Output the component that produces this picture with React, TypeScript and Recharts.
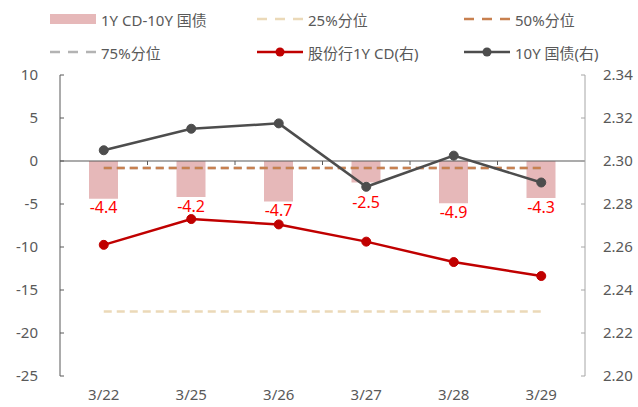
import React from "react";
import {
  ComposedChart,
  Bar,
  Line,
  XAxis,
  YAxis,
  ReferenceLine,
  LabelList,
} from "recharts";

const categories = ["3/22", "3/25", "3/26", "3/27", "3/28", "3/29"];
const spread = [-4.4, -4.2, -4.7, -2.5, -4.9, -4.3];
const pct25 = [-17.5, -17.5, -17.5, -17.5, -17.5, -17.5];
const pct50 = [-0.8, -0.8, -0.8, -0.8, -0.8, -0.8];
const pct75 = [-0.8, -0.8, -0.8, -0.8, -0.8, -0.8];
const cd1y = [2.261, 2.273, 2.2705, 2.2625, 2.253, 2.2465];
const bond10y = [2.305, 2.315, 2.3175, 2.288, 2.3025, 2.29];

const leftTicks = [-25, -20, -15, -10, -5, 0, 5, 10];
const rightTicks = [2.2, 2.22, 2.24, 2.26, 2.28, 2.3, 2.32, 2.34];
const rightDomain: [number, number] = [2.2, 2.34];

const data = categories.map((c, i) => ({
  date: c,
  spread: spread[i],
  p25: pct25[i],
  p50: pct50[i],
  p75: pct75[i],
  cd: cd1y[i],
  bond: bond10y[i],
}));

const W = 638;
const H = 407;
const TOP = 75;
const XH = 31;
const FONT = '"Noto Sans", "Noto Sans CJK SC", sans-serif';
const TXT = "#595959";

// keep the bar label clear of the 10Y marker when it sits just under the bar
function SpreadLabel(props: any) {
  const { x, y, width, height, value, index } = props;
  const bottom = Math.max(y, y + height);
  const plotH = H - TOP - XH;
  const dotY = TOP + ((rightDomain[1] - bond10y[index]) / (rightDomain[1] - rightDomain[0])) * plotH;
  let ly = bottom + 9;
  if (dotY > bottom - 6 && dotY < ly + 10) ly = dotY + 16;
  return (
    <text x={x + width / 2} y={ly} dy="0.35em" textAnchor="middle" fill="#FF0000" fontSize={16} fontFamily={FONT}>
      {value}
    </text>
  );
}

// zero line with little tick marks between categories
function ZeroLine(props: any) {
  const { x1, y1, x2, y2 } = props;
  const n = categories.length;
  const step = (x2 - x1) / n;
  const ticks = [];
  for (let i = 1; i < n; i++) {
    const x = x1 + step * i;
    ticks.push(<line key={i} x1={x} y1={y1} x2={x} y2={y1 + 4} stroke={TXT} strokeWidth={1} />);
  }
  return (
    <g>
      <line x1={x1} y1={y1} x2={x2} y2={y2} stroke={TXT} strokeWidth={1.2} />
      {ticks}
    </g>
  );
}

function Swatch({ kind, color }: { kind: string; color: string }) {
  if (kind === "bar") return <svg width={46} height={12}><rect x={0} y={1} width={46} height={10} fill={color} /></svg>;
  if (kind === "dash")
    return (
      <svg width={46} height={12}>
        <line x1={0} y1={6} x2={46} y2={6} stroke={color} strokeWidth={2.5} strokeDasharray="10 8" />
      </svg>
    );
  return (
    <svg width={46} height={12}>
      <line x1={0} y1={6} x2={46} y2={6} stroke={color} strokeWidth={2.5} />
      <circle cx={23} cy={6} r={4.5} fill={color} />
    </svg>
  );
}

const legendItems = [
  { name: "1Y CD-10Y 国债", kind: "bar", color: "#E6B8B9", left: 50, top: 19 },
  { name: "25%分位", kind: "dash", color: "#EBD9B8", left: 257, top: 19 },
  { name: "50%分位", kind: "dash", color: "#C8804F", left: 464, top: 19 },
  { name: "75%分位", kind: "dash", color: "#B3B3B3", left: 50, top: 52 },
  { name: "股份行1Y CD(右)", kind: "dot", color: "#C00000", left: 257, top: 52 },
  { name: "10Y 国债(右)", kind: "dot", color: "#4D4D4D", left: 464, top: 52 },
];

export default function App() {
  return (
    <div style={{ position: "fixed", left: 0, top: 0, width: W, height: H, background: "#fff", fontFamily: FONT }}>
      {legendItems.map((it) => (
        <div
          key={it.name}
          style={{
            position: "absolute",
            left: it.left,
            top: it.top - 10,
            height: 20,
            display: "flex",
            alignItems: "center",
            gap: 5,
            fontSize: 15,
            color: TXT,
            whiteSpace: "nowrap",
          }}
        >
          <Swatch kind={it.kind} color={it.color} />
          <span>{it.name}</span>
        </div>
      ))}
      <ComposedChart width={W} height={H} data={data} margin={{ top: TOP, right: 0, bottom: 0, left: 0 }}>
        <XAxis
          dataKey="date"
          axisLine={false}
          tickLine={false}
          tickSize={0}
          tickMargin={13}
          height={XH}
          tick={{ fill: TXT, fontSize: 15, fontFamily: FONT }}
        />
        <YAxis
          yAxisId="left"
          domain={[-25, 10]}
          ticks={leftTicks}
          width={60}
          tickSize={-4}
          tickMargin={26}
          axisLine={{ stroke: TXT }}
          tickLine={{ stroke: TXT }}
          tick={{ fill: TXT, fontSize: 15, fontFamily: FONT }}
        />
        <YAxis
          yAxisId="right"
          orientation="right"
          domain={rightDomain}
          ticks={rightTicks}
          width={53}
          tickSize={-4}
          tickMargin={22}
          axisLine={{ stroke: "#A6A6A6" }}
          tickLine={{ stroke: "#A6A6A6" }}
          tickFormatter={(v: number) => v.toFixed(2)}
          tick={{ fill: TXT, fontSize: 15, fontFamily: FONT }}
        />
        <Bar yAxisId="left" dataKey="spread" fill="#E6B8B9" barSize={29} isAnimationActive={false}>
          <LabelList dataKey="spread" content={SpreadLabel} />
        </Bar>
        <ReferenceLine yAxisId="left" y={0} shape={ZeroLine} />
        <Line yAxisId="left" dataKey="p25" stroke="#EBD9B8" strokeWidth={2.5} strokeDasharray="8 5" dot={false} isAnimationActive={false} />
        <Line yAxisId="left" dataKey="p75" stroke="#B3B3B3" strokeWidth={2.5} strokeDasharray="8 5" dot={false} isAnimationActive={false} />
        <Line yAxisId="left" dataKey="p50" stroke="#C8804F" strokeWidth={2.5} strokeDasharray="8 5" dot={false} isAnimationActive={false} />
        <Line
          yAxisId="right"
          dataKey="cd"
          stroke="#C00000"
          strokeWidth={2.5}
          dot={{ r: 4.5, fill: "#C00000", stroke: "#C00000", strokeWidth: 1 }}
          isAnimationActive={false}
        />
        <Line
          yAxisId="right"
          dataKey="bond"
          stroke="#4D4D4D"
          strokeWidth={2.5}
          dot={{ r: 4.5, fill: "#4D4D4D", stroke: "#4D4D4D", strokeWidth: 1 }}
          isAnimationActive={false}
        />
      </ComposedChart>
    </div>
  );
}
